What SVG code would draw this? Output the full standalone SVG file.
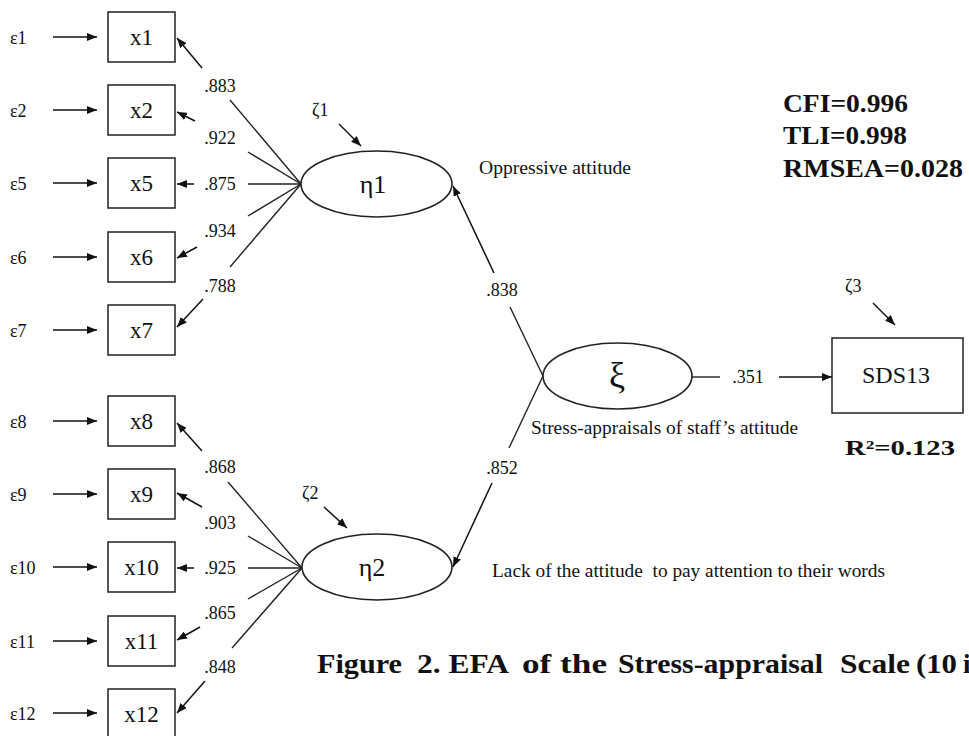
<svg xmlns="http://www.w3.org/2000/svg" width="969" height="736" viewBox="0 0 969 736">
<defs>
<marker id="ah" markerUnits="userSpaceOnUse" markerWidth="10" markerHeight="8" refX="10" refY="4" orient="auto">
<path d="M0,0 L10,4 L0,8 z" fill="#111"/>
</marker>
<style>
.ln{stroke:#222;stroke-width:1.4;fill:none}
.ar{stroke:#111;stroke-width:1.5;fill:none;marker-end:url(#ah)}
.box{fill:#fff;stroke:#222;stroke-width:1.5}
.ell{fill:#fff;stroke:#222;stroke-width:1.6}
text{font-family:"Liberation Serif","Times New Roman",serif;fill:#111}
.eps{font-size:18px}
.bx{font-size:23px;text-anchor:middle}
.ld{font-size:18px;text-anchor:middle}
.lat{font-size:26px;text-anchor:middle}
.cap{font-size:18px}
.fit{font-size:25px;font-weight:bold}
.big{font-size:27px;font-weight:bold}
</style>
</defs>
<rect width="969" height="736" fill="#fff"/>

<g id="connectors">
<line class="ar" x1="53" y1="37" x2="97" y2="37"/>
<line class="ar" x1="53" y1="110" x2="97" y2="110"/>
<line class="ar" x1="53" y1="183" x2="97" y2="183"/>
<line class="ar" x1="53" y1="257" x2="97" y2="257"/>
<line class="ar" x1="53" y1="330" x2="97" y2="330"/>
<line class="ar" x1="53" y1="421" x2="97" y2="421"/>
<line class="ar" x1="53" y1="494" x2="97" y2="494"/>
<line class="ar" x1="53" y1="567" x2="97" y2="567"/>
<line class="ar" x1="53" y1="641" x2="97" y2="641"/>
<line class="ar" x1="53" y1="713" x2="97" y2="713"/>
<line class="ln" x1="301" y1="184" x2="230" y2="100"/>
<line class="ar" x1="202" y1="68" x2="177" y2="38"/>
<line class="ln" x1="301" y1="184" x2="248" y2="152"/>
<line class="ar" x1="195" y1="121" x2="177" y2="112"/>
<line class="ln" x1="301" y1="184" x2="248" y2="184"/>
<line class="ar" x1="194" y1="184" x2="177" y2="184"/>
<line class="ln" x1="301" y1="184" x2="248" y2="216"/>
<line class="ar" x1="197" y1="247" x2="177" y2="258"/>
<line class="ln" x1="301" y1="184" x2="230" y2="267"/>
<line class="ar" x1="203" y1="299" x2="177" y2="327"/>
<line class="ln" x1="302" y1="568" x2="228" y2="482"/>
<line class="ar" x1="202" y1="451" x2="177" y2="423"/>
<line class="ln" x1="302" y1="568" x2="248" y2="536"/>
<line class="ar" x1="202" y1="507" x2="177" y2="493"/>
<line class="ln" x1="302" y1="568" x2="248" y2="568"/>
<line class="ar" x1="194" y1="568" x2="177" y2="568"/>
<line class="ln" x1="302" y1="568" x2="248" y2="599"/>
<line class="ar" x1="200" y1="627" x2="177" y2="640"/>
<line class="ln" x1="302" y1="568" x2="232" y2="648"/>
<line class="ar" x1="205" y1="681" x2="177" y2="713"/>
<line class="ar" x1="339" y1="124" x2="361" y2="146"/>
<line class="ar" x1="324" y1="507" x2="347" y2="528"/>
<line class="ar" x1="873" y1="303" x2="895" y2="325"/>
<line class="ln" x1="543" y1="376" x2="510" y2="307"/>
<line class="ar" x1="494" y1="273" x2="453" y2="186"/>
<line class="ln" x1="543" y1="376" x2="509" y2="448"/>
<line class="ar" x1="492" y1="483" x2="453" y2="567"/>
<line class="ln" x1="692" y1="377" x2="720" y2="377"/>
<line class="ar" x1="779" y1="377" x2="832" y2="377"/>
</g>

<g id="labels">
<text class="ld" x="220" y="92">.883</text>
<text class="ld" x="220" y="144">.922</text>
<text class="ld" x="220" y="190">.875</text>
<text class="ld" x="220" y="237">.934</text>
<text class="ld" x="220" y="292">.788</text>
<text class="ld" x="220" y="473">.868</text>
<text class="ld" x="220" y="529">.903</text>
<text class="ld" x="220" y="574">.925</text>
<text class="ld" x="220" y="619">.865</text>
<text class="ld" x="220" y="673">.848</text>
<text class="ld" x="502" y="296">.838</text>
<text class="ld" x="502" y="474">.852</text>
<text class="ld" x="748" y="383">.351</text>
</g>

<g id="errors">
<text class="eps" x="10" y="44">ε1</text>
<text class="eps" x="10" y="117">ε2</text>
<text class="eps" x="10" y="190">ε5</text>
<text class="eps" x="10" y="264">ε6</text>
<text class="eps" x="10" y="337">ε7</text>
<text class="eps" x="10" y="428">ε8</text>
<text class="eps" x="10" y="501">ε9</text>
<text class="eps" x="10" y="574">ε10</text>
<text class="eps" x="10" y="648">ε11</text>
<text class="eps" x="10" y="720">ε12</text>
</g>

<g id="x1"><rect class="box" x="108" y="12" width="67" height="50"/><text class="bx" x="141.5" y="45">x1</text></g>
<g id="x2"><rect class="box" x="108" y="85" width="67" height="50"/><text class="bx" x="141.5" y="118">x2</text></g>
<g id="x5"><rect class="box" x="108" y="158" width="67" height="50"/><text class="bx" x="141.5" y="191">x5</text></g>
<g id="x6"><rect class="box" x="108" y="232" width="67" height="50"/><text class="bx" x="141.5" y="265">x6</text></g>
<g id="x7"><rect class="box" x="108" y="305" width="67" height="50"/><text class="bx" x="141.5" y="338">x7</text></g>
<g id="x8"><rect class="box" x="108" y="396" width="67" height="50"/><text class="bx" x="141.5" y="429">x8</text></g>
<g id="x9"><rect class="box" x="108" y="469" width="67" height="50"/><text class="bx" x="141.5" y="502">x9</text></g>
<g id="x10"><rect class="box" x="108" y="542" width="67" height="50"/><text class="bx" x="141.5" y="575">x10</text></g>
<g id="x11"><rect class="box" x="108" y="616" width="67" height="50"/><text class="bx" x="141.5" y="649">x11</text></g>
<g id="x12"><rect class="box" x="108" y="689" width="67" height="50"/><text class="bx" x="141.5" y="722">x12</text></g>

<g id="eta1">
<ellipse class="ell" cx="376.5" cy="184" rx="75.5" ry="33"/>
<text class="lat" x="373" y="193">η1</text>
<text class="eps" x="312" y="116">ζ1</text>
<text class="cap" x="479" y="174" textLength="152" lengthAdjust="spacingAndGlyphs">Oppressive attitude</text>
</g>

<g id="eta2">
<ellipse class="ell" cx="377" cy="567" rx="75" ry="33"/>
<text class="lat" x="372" y="576">η2</text>
<text class="eps" x="302" y="499">ζ2</text>
<text class="cap" x="492" y="577" textLength="393" lengthAdjust="spacingAndGlyphs" style="white-space:pre">Lack of the attitude  to pay attention to their words</text>
</g>

<g id="xi">
<ellipse class="ell" cx="617.5" cy="376" rx="74.5" ry="33"/>
<text x="617" y="387" style="font-size:36px;text-anchor:middle">ξ</text>
<text class="cap" x="531" y="434" textLength="267" lengthAdjust="spacingAndGlyphs">Stress-appraisals of staff’s attitude</text>
</g>

<g id="SDS13">
<rect class="box" x="832" y="338" width="131" height="75"/>
<text x="862" y="383" style="font-size:23px" textLength="68" lengthAdjust="spacingAndGlyphs">SDS13</text>
<text class="eps" x="845" y="292">ζ3</text>
<text x="845" y="455" style="font-size:22px;font-weight:bold" textLength="110" lengthAdjust="spacingAndGlyphs">R²=0.123</text>
</g>

<g id="fit">
<text class="fit" x="783" y="112" textLength="125" lengthAdjust="spacingAndGlyphs">CFI=0.996</text>
<text class="fit" x="783" y="144" textLength="124" lengthAdjust="spacingAndGlyphs">TLI=0.998</text>
<text class="fit" x="783" y="177" textLength="180" lengthAdjust="spacingAndGlyphs">RMSEA=0.028</text>
</g>

<g id="caption">
<text class="big" y="673"><tspan x="317" textLength="85" lengthAdjust="spacingAndGlyphs">Figure</tspan><tspan x="417" textLength="92" lengthAdjust="spacingAndGlyphs">2. EFA</tspan><tspan x="522" textLength="85" lengthAdjust="spacingAndGlyphs">of the</tspan><tspan x="618" textLength="205" lengthAdjust="spacingAndGlyphs">Stress-appraisal</tspan><tspan x="840" textLength="70" lengthAdjust="spacingAndGlyphs">Scale</tspan><tspan x="916" textLength="41" lengthAdjust="spacingAndGlyphs">(10</tspan><tspan x="963">i</tspan></text>
</g>
</svg>
